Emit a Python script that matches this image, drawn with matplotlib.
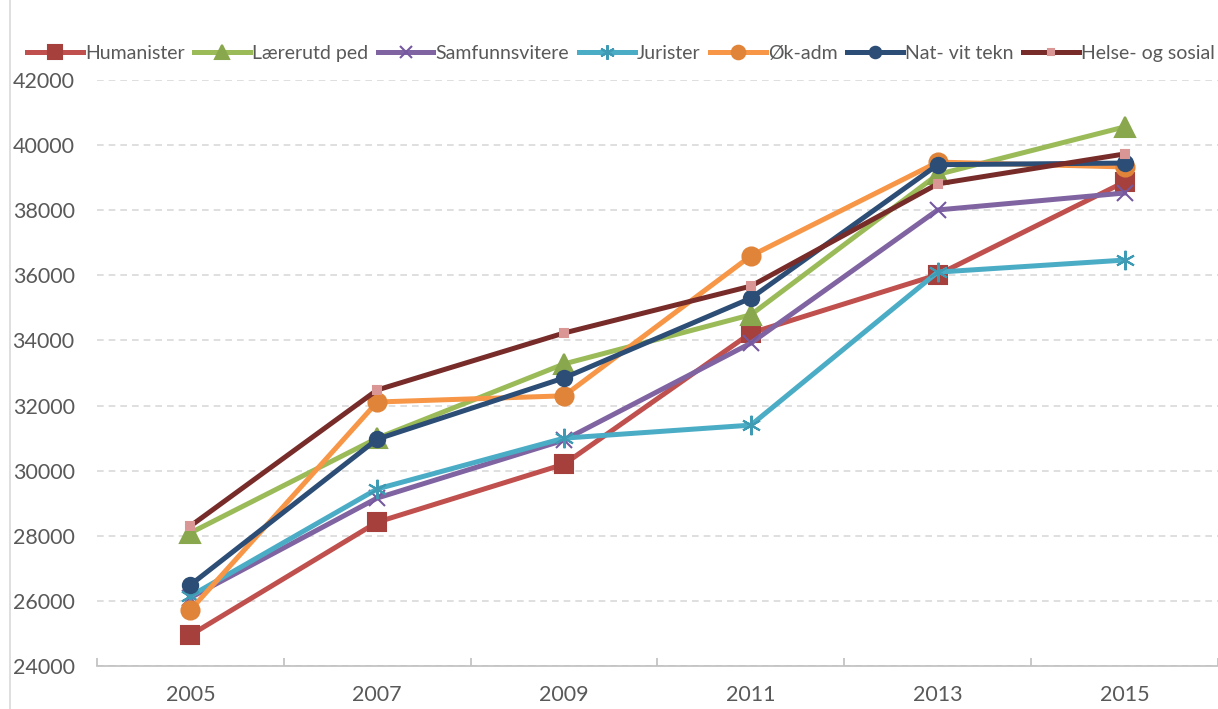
import matplotlib.pyplot as plt
from matplotlib.lines import Line2D

plt.rcParams['font.family'] = ['Lato', 'DejaVu Sans']

years = ['2005', '2007', '2009', '2011', '2013', '2015']

humanister = [24950, 28420, 30200, 34230, 36020, 38870]
laererutd = [28090, 31000, 33280, 34790, 39100, 40560]
samfunn = [26100, 29160, 30940, 33920, 38010, 38530]
jurister = [26150, 29440, 31000, 31400, 36100, 36470]
okadm = [25720, 32110, 32300, 36600, 39480, 39330]
natvit = [26490, 30970, 32850, 35300, 39400, 39450]
helse = [28300, 32480, 34230, 35670, 38810, 39730]

series = [
    ('Humanister', humanister, '#C0504D', 's', '#A5403D', 13),
    ('Lærerutd ped', laererutd, '#9BBB59', '^', '#89A74C', 14),
    ('Samfunnsvitere', samfunn, '#8064A2', 'x', '#7558A0', 12),
    ('Jurister', jurister, '#4BACC6', (6, 2, 0), '#3F9AB4', 14),
    ('Øk-adm', okadm, '#F79646', 'o', '#E0843A', 13),
    ('Nat- vit tekn', natvit, '#2C4D75', 'o', '#2C4D75', 11),
    ('Helse- og sosial', helse, '#772C2A', 's', '#D99694', 6),
]

fig = plt.figure(figsize=(12.18, 7.09), dpi=100)
ax = fig.add_axes([0.0796, 0.0606, 0.9204, 0.8265])

x = list(range(len(years)))
handles = []
for name, vals, col, mk, mcol, ms in series:
    ax.plot(x, vals, color=col, lw=3.6, marker=mk, markersize=ms,
            markerfacecolor=mcol, markeredgecolor=mcol, markeredgewidth=1.5,
            solid_joinstyle='round', zorder=3)
    handles.append(Line2D([], [], color=col, lw=3.6, marker=mk, markersize=ms * 0.75,
                          markerfacecolor=mcol, markeredgecolor=mcol, markeredgewidth=1.5))

ax.set_xlim(-0.5, 5.5)
ax.set_ylim(24000, 42000)
ax.set_yticks(range(24000, 42001, 2000))
ax.set_xticks(x)
ax.set_xticklabels(years)
ax.set_xticks([i + 0.5 for i in range(-1, 6)], minor=True)
ax.grid(axis='y', color='#D9D9D9', linestyle=(0, (4, 3)), lw=1.2)
ax.set_axisbelow(True)

for s in ['top', 'right', 'left']:
    ax.spines[s].set_visible(False)
ax.spines['bottom'].set_color('#BFBFBF')
ax.spines['bottom'].set_linewidth(1.2)
ax.tick_params(axis='x', which='major', length=0, pad=14, labelsize=15.5, labelcolor='#595959')
ax.tick_params(axis='x', which='minor', length=6, direction='in', color='#BFBFBF', width=1.2)
ax.tick_params(axis='y', length=0, pad=16, labelsize=15.5, labelcolor='#595959')

fig.add_artist(Line2D([0.0085, 0.0085], [0, 1], color='#D9D9D9', lw=1.2))

fig.legend(handles, [s[0] for s in series], loc='center', bbox_to_anchor=(0.51, 0.925),
           ncol=7, frameon=False, fontsize=14, labelcolor='#595959',
           handlelength=2.85, handletextpad=0.12, columnspacing=0.5)

fig.savefig('out.png', dpi=100)
